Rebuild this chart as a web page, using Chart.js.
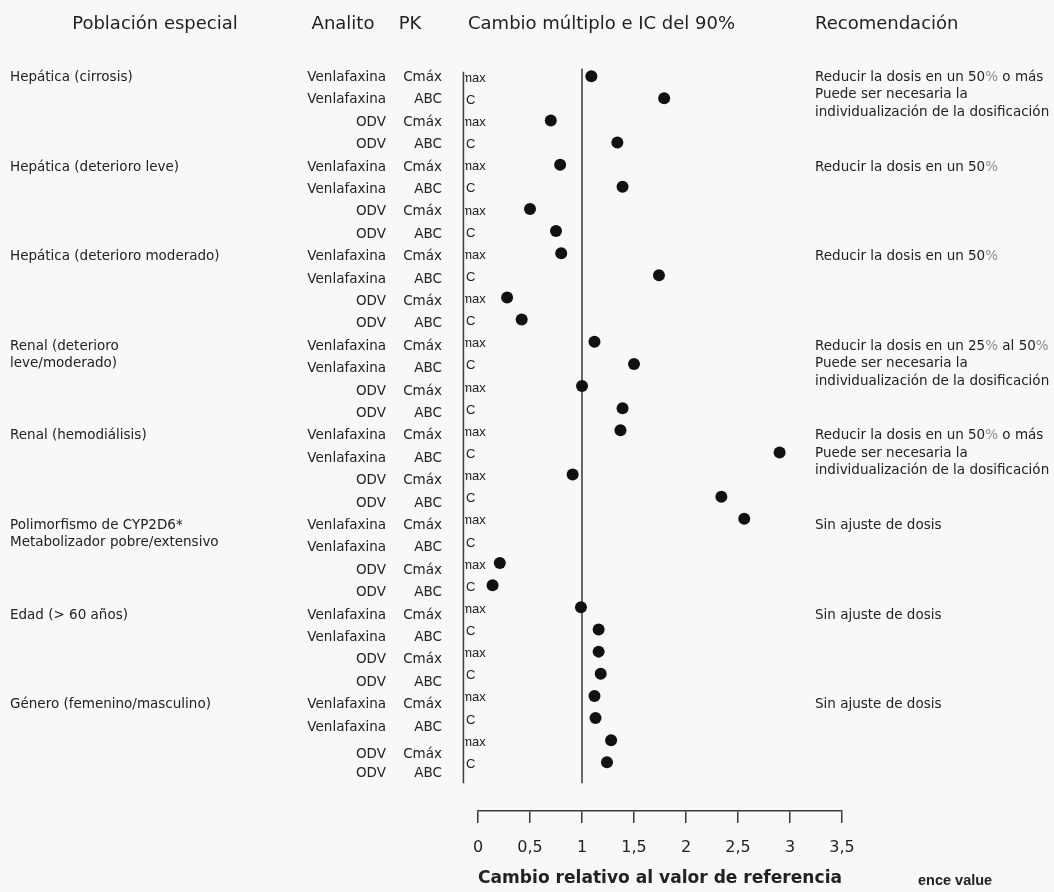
<!DOCTYPE html>
<html>
<head>
<meta charset="utf-8">
<script src="https://cdn.jsdelivr.net/npm/chart.js@4"></script>
<style>
  html, body { margin: 0; padding: 0; background: #f8f7fa; }
  #wrap { width: 1054px; height: 892px; }
</style>
</head>
<body>
<div id="wrap"><canvas id="pkChart" width="1054" height="892"></canvas></div>
<script>
/* Data */
const groups = [
  ["Hepática (cirrosis)"],
  ["Hepática (deterioro leve)"],
  ["Hepática (deterioro moderado)"],
  ["Renal (deterioro", "leve/moderado)"],
  ["Renal (hemodiálisis)"],
  ["Polimorfismo de CYP2D6*", "Metabolizador pobre/extensivo"],
  ["Edad (> 60 años)"],
  ["Género (femenino/masculino)"]
];
const analytes = ["Venlafaxina", "Venlafaxina", "ODV", "ODV"];
const pkParams = ["Cmáx", "ABC", "Cmáx", "ABC"];
const pkClipped = ["Cmax", "AUC", "Cmax", "AUC"];

// fold change, 4 rows per group (null = no point drawn)
const foldChange = [
  1.09, 1.79, 0.70, 1.34,
  0.79, 1.39, 0.50, 0.75,
  0.80, 1.74, 0.28, 0.42,
  1.12, 1.50, 1.00, 1.39,
  1.37, 2.90, 0.91, 2.34,
  2.56, null, 0.21, 0.14,
  0.99, 1.16, 1.16, 1.18,
  1.12, 1.13, 1.28, 1.24
];

const recommendations = [
  ["Reducir la dosis en un 50% o más", "Puede ser necesaria la", "individualización de la dosificación"],
  ["Reducir la dosis en un 50%"],
  ["Reducir la dosis en un 50%"],
  ["Reducir la dosis en un 25% al 50%", "Puede ser necesaria la", "individualización de la dosificación"],
  ["Reducir la dosis en un 50% o más", "Puede ser necesaria la", "individualización de la dosificación"],
  ["Sin ajuste de dosis"],
  ["Sin ajuste de dosis"],
  ["Sin ajuste de dosis"]
];

const xTicks = [0, 0.5, 1, 1.5, 2, 2.5, 3, 3.5];
const headers = ["Población especial", "Analito", "PK", "Cambio múltiplo e IC del 90%", "Recomendación"];
const axisTitle = "Cambio relativo al valor de referencia";
const cornerText = "ence value";

const FONT = "'DejaVu Sans', Verdana, sans-serif";
const INK = "#222";

/* Build scatter points */
const points = [];
foldChange.forEach((v, i) => {
  if (v !== null) points.push({ x: v, y: i });
});

/* text rows drift a little from the dot rows in the scan */
function labelRow(r) {
  if (r === 30) return 30.67;
  if (r === 31) return 31.5;
  return r * 1.012 + 0.06;
}

/* draw text with the % signs in a lighter grey, like the scan */
function fillWithPercent(ctx, text, x, y) {
  const parts = text.split("%");
  let cx = x;
  parts.forEach((p, i) => {
    ctx.fillStyle = INK;
    ctx.fillText(p, cx, y);
    cx += ctx.measureText(p).width;
    if (i < parts.length - 1) {
      ctx.fillStyle = "#8a8a8a";
      ctx.fillText("%", cx, y);
      cx += ctx.measureText("%").width;
    }
  });
  ctx.fillStyle = INK;
}

/* Table text drawn around the plot */
const tablePlugin = {
  id: "tableText",
  afterDraw(chart) {
    const { ctx, scales } = chart;
    const xs = scales.x, ys = scales.y;
    ctx.save();
    ctx.fillStyle = INK;
    ctx.textBaseline = "middle";

    // headers
    ctx.font = "18px " + FONT;
    ctx.textAlign = "center";
    ctx.fillText(headers[0], 155, 24);
    ctx.fillText(headers[1], 343, 24);
    ctx.fillText(headers[2], 410, 24);
    ctx.textAlign = "left";
    ctx.fillText(headers[3], 468, 24);
    ctx.fillText(headers[4], 815, 24);

    ctx.font = "13.5px " + FONT;
    groups.forEach((lines, g) => {
      const base = g * 4;
      const y0 = ys.getPixelForValue(labelRow(base));
      ctx.textAlign = "left";
      lines.forEach((t, k) => ctx.fillText(t, 10, y0 + k * 17.5));
      recommendations[g].forEach((t, k) => fillWithPercent(ctx, t, 815, y0 + k * 17.5));

      for (let r = 0; r < 4; r++) {
        const y = ys.getPixelForValue(labelRow(base + r));
        ctx.textAlign = "right";
        ctx.fillText(analytes[r], 386, y);
        ctx.fillText(pkParams[r], 442, y);
      }
    });

    // clipped Cmax / AUC remnants just right of the left rule
    const clipX = xs.getPixelForValue(-0.14);
    ctx.save();
    ctx.beginPath();
    ctx.rect(clipX + 1.5, 0, 60, chart.height);
    ctx.clip();
    ctx.font = "13px 'Liberation Sans', Arial, sans-serif";
    ctx.textAlign = "left";
    for (let i = 0; i < foldChange.length; i++) {
      const lx = i % 2 === 0 ? xs.getPixelForValue(-0.252) : xs.getPixelForValue(-0.29);
      ctx.fillText(pkClipped[i % 4], lx, ys.getPixelForValue(i) + 2);
    }
    ctx.restore();

    ctx.font = "bold 14.5px 'Liberation Sans', Arial, sans-serif";
    ctx.textAlign = "left";
    ctx.fillText(cornerText, 918, 881);
    ctx.restore();
  }
};

const bgPlugin = {
  id: "bg",
  beforeDraw(chart) {
    const { ctx } = chart;
    ctx.save();
    ctx.fillStyle = "#f8f7fa";
    ctx.fillRect(0, 0, chart.width, chart.height);
    ctx.restore();
  }
};

const ctx = document.getElementById("pkChart").getContext("2d");
new Chart(ctx, {
  type: "scatter",
  data: {
    datasets: [
      {
        label: "Cambio múltiplo",
        data: points,
        pointRadius: 6,
        pointHoverRadius: 6,
        backgroundColor: "#111",
        borderColor: "#111",
        borderWidth: 0
      },
      {
        label: "ref",
        type: "line",
        data: [{ x: 1, y: -0.35 }, { x: 1, y: 31.95 }],
        borderColor: "#3a3a3a",
        borderWidth: 1.5,
        pointRadius: 0,
        fill: false
      },
      {
        label: "left rule",
        type: "line",
        data: [{ x: -0.14, y: -0.2 }, { x: -0.14, y: 31.95 }],
        borderColor: "#3a3a3a",
        borderWidth: 1.5,
        pointRadius: 0,
        fill: false,
        clip: false
      }
    ]
  },
  options: {
    responsive: false,
    animation: false,
    layout: { padding: { left: 478, right: 212, top: 54, bottom: 3 } },
    plugins: {
      legend: { display: false },
      tooltip: { enabled: false }
    },
    scales: {
      x: {
        type: "linear",
        position: "bottom",
        min: 0,
        max: 3.5,
        afterBuildTicks: scale => { scale.ticks = xTicks.map(v => ({ value: v })); },
        afterFit: scale => { scale.height = 78; },
        border: { display: true, color: "#3a3a3a", width: 1.5 },
        grid: { drawOnChartArea: false, drawTicks: true, tickLength: 12, color: "#3a3a3a", lineWidth: 1.5 },
        ticks: {
          padding: 15,
          color: INK,
          font: { family: FONT, size: 16 },
          maxRotation: 0,
          callback: v => String(v).replace(".", ",")
        },
        title: {
          display: true,
          text: axisTitle,
          align: "center",
          color: INK,
          font: { family: FONT, size: 18, weight: "bold" },
          padding: { top: 0, bottom: 0 }
        }
      },
      y: {
        type: "linear",
        display: false,
        min: -1,
        max: 33.2,
        reverse: true
      }
    }
  },
  plugins: [bgPlugin, tablePlugin]
});
</script>
</body>
</html>
